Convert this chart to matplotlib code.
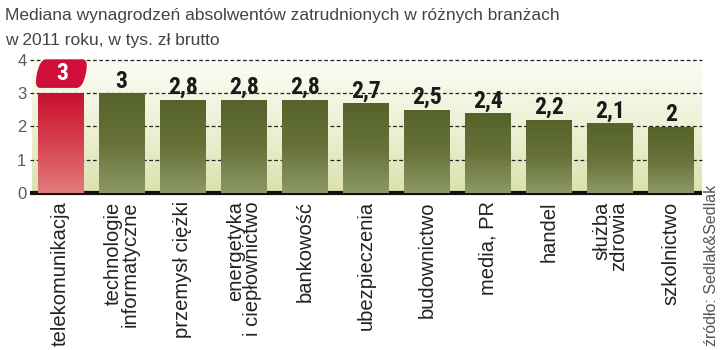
import numpy as np
import matplotlib
matplotlib.use("Agg")
import matplotlib.pyplot as plt
from matplotlib.colors import LinearSegmentedColormap
from matplotlib.patches import FancyBboxPatch
from matplotlib.transforms import Affine2D

categories = [
    "telekomunikacja",
    "technologie\ninformatyczne",
    "przemysł ciężki",
    "energetyka\ni ciepłownictwo",
    "bankowość",
    "ubezpieczenia",
    "budownictwo",
    "media, PR",
    "handel",
    "służba\nzdrowia",
    "szkolnictwo",
]
values = [3.0, 3.0, 2.8, 2.8, 2.8, 2.7, 2.5, 2.4, 2.2, 2.1, 2.0]
y_ticks = [0, 1, 2, 3, 4]
highlight_index = 0

title_lines = ["Mediana wynagrodzeń absolwentów zatrudnionych w różnych branżach",
               "w 2011 roku, w tys. zł brutto"]
source = "źródło: Sedlak&Sedlak"

sans = ["Liberation Sans", "DejaVu Sans"]
cond = ["Roboto Condensed", "DejaVu Sans"]

fig = plt.figure(figsize=(7.2, 3.5), dpi=100)
ax = fig.add_axes([32 / 720, 1 - 193 / 350, 670 / 720, 133 / 350])

n = len(values)
x = np.arange(n)
x0, x1 = -0.47, n - 1 + 0.51
ax.set_xlim(x0, x1)
ax.set_ylim(0, 4)

# background gradient, pale yellow-green at the bottom fading to white
bg = LinearSegmentedColormap.from_list("bg", ["#dce1ae", "#eef0d4", "#fcfcf6"])
grad = np.linspace(0, 1, 256).reshape(-1, 1)
ax.imshow(grad, cmap=bg, aspect="auto", origin="lower",
          extent=[x0, x1, 0, 4], zorder=0)

# dashed gridlines reaching out to the tick labels
for t in y_ticks[1:]:
    ax.plot([x0 - 0.03, x1], [t, t], color="#222222", lw=0.9,
            ls=(0, (3, 2)), zorder=1, clip_on=False)
ax.plot([x0 - 0.03, x1], [0, 0], color="#111111", lw=3, zorder=1,
        clip_on=False, solid_capstyle="butt")

green = LinearSegmentedColormap.from_list("g", ["#8d9868", "#667238", "#55622a"])
red = LinearSegmentedColormap.from_list("r", ["#e27c7c", "#d6424f", "#c6102c"])

width = 0.74
bars = ax.bar(x, values, width=width, color="none", zorder=2)
for i, (b, v) in enumerate(zip(bars, values)):
    cmap = red if i == highlight_index else green
    im = ax.imshow(grad, cmap=cmap, aspect="auto", origin="lower",
                   extent=[b.get_x(), b.get_x() + width, 0, v], zorder=2)
    im.set_clip_path(b)
    label = f"{v:g}".replace(".", ",")
    cx = b.get_x() + width / 2
    if i == highlight_index:
        # slanted rounded tag holding the value
        tag = FancyBboxPatch((b.get_x() - 0.02, 3.16), width + 0.06, 0.86,
                             boxstyle="round,pad=0,rounding_size=0.1",
                             mutation_aspect=4.0,
                             fc="#cf0f3a", ec="none", zorder=3, clip_on=False)
        ax.add_patch(tag)
        fig.canvas.draw()
        px, py = ax.transData.transform((cx, 3.58))
        skew = Affine2D().translate(-px, -py).skew_deg(12, 0).translate(px, py)
        tag.set_transform(ax.transData + skew)
        ax.text(cx + 0.02, 3.58, label, ha="center", va="center",
                fontsize=17, fontweight="bold", color="white", family=cond,
                zorder=4)
    else:
        ax.text(cx, v + 0.02, label, ha="center", va="bottom",
                fontsize=17, fontweight="bold", color="#1a1a1a", family=cond,
                zorder=4)

ax.set_yticks(y_ticks)
ax.set_yticklabels([str(t) for t in y_ticks], family=sans, fontsize=12,
                   color="#5a5a5a")
ax.tick_params(axis="y", length=0, pad=4)
ax.set_xticks(x)
ax.set_xticklabels(categories, rotation=90, family=sans, fontsize=14.5,
                   color="#222222", va="top", ha="center",
                   multialignment="right", linespacing=0.85)
ax.tick_params(axis="x", length=0, pad=6)
for s in ax.spines.values():
    s.set_visible(False)

# two-line heading, each line placed on its own baseline
for k, line in enumerate(title_lines):
    fig.text(5 / 720, 1 - (20 + 25 * k) / 350, line, ha="left",
             va="baseline", fontsize=12.5, color="#444444", family=sans)
fig.text(711 / 720, 1 - 346 / 350, source, ha="center", va="bottom",
         rotation=90, fontsize=11.5, color="#555555", family=sans)

fig.savefig("out.png", dpi=100)
